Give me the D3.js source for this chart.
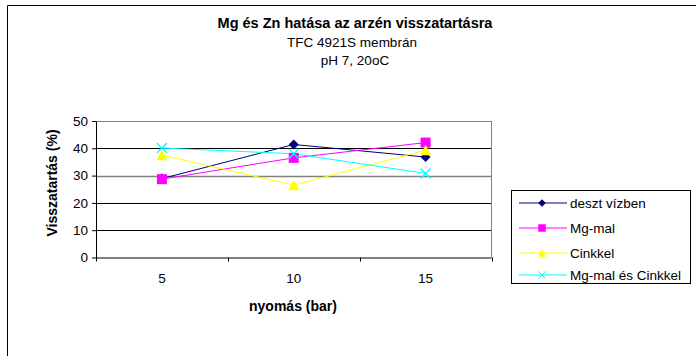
<!DOCTYPE html>
<html>
<head>
<meta charset="utf-8">
<script src="https://cdn.jsdelivr.net/npm/d3@7"></script>
<style>
  body { margin: 0; background: #fff; }
  svg { font-family: "Liberation Sans", Arial, sans-serif; }
</style>
</head>
<body>
<svg id="chart" width="696" height="356"></svg>
<script>
// data
let categories = ["5", "10", "15"];
let seriesNames = ["deszt vízben", "Mg-mal", "Cinkkel", "Mg-mal és Cinkkel"];
let deszt = [28.9, 41.4, 36.8];
let mgMal = [28.7, 36.5, 42.1];
let cinkkel = [37.5, 26.5, 39.3];
let mgCink = [40.1, 38, 30.8];
let yTicks = [0, 10, 20, 30, 40, 50];
let colors = ["#000080", "#FF00FF", "#FFFF00", "#00FFFF"];
let markers = ["diamond", "square", "triangle", "x"];

function getConfig() {
  let margin = { top: 121, left: 96, right: 696 - 491.5, bottom: 356 - 257.5 };
  let width = 696, height = 356;
  let bodyWidth = width - margin.left - margin.right;
  let bodyHeight = height - margin.top - margin.bottom;
  let container = d3.select("#chart");
  return { width, height, margin, bodyWidth, bodyHeight, container };
}

function getScales(config) {
  let xScale = d3.scaleBand().domain(categories).range([0, config.bodyWidth]);
  let yScale = d3.scaleLinear().domain([0, 50]).range([config.bodyHeight, 0]);
  return { xScale, yScale };
}

function drawMarker(g, type, color) {
  if (type == "diamond") {
    g.append("path").attr("d", "M0,-5L5,0L0,5L-5,0Z").attr("fill", color);
  } else if (type == "square") {
    g.append("rect").attr("x", -5).attr("y", -5).attr("width", 10).attr("height", 10).attr("fill", color);
  } else if (type == "triangle") {
    g.append("path").attr("d", "M0,-5.5L5.5,5L-5.5,5Z").attr("fill", color);
  } else {
    g.append("path").attr("d", "M-5,-5L5,5M-5,5L5,-5")
      .attr("stroke", color).attr("stroke-width", 1.3).attr("fill", "none");
  }
}

function drawChart() {
  let config = getConfig();
  let { margin, container, bodyWidth, bodyHeight } = config;
  let { xScale, yScale } = getScales(config);
  let series = [deszt, mgMal, cinkkel, mgCink];

  // outer chart border (only top/left visible in the picture)
  container.append("path")
    .attr("d", "M7.5,356V5.5H696")
    .attr("fill", "none").attr("stroke", "#000").attr("stroke-width", 1);

  // titles
  container.append("text").attr("x", 355).attr("y", 28)
    .attr("text-anchor", "middle").attr("font-size", 14.5).attr("font-weight", "bold")
    .text("Mg és Zn hatása az arzén visszatartásra");
  container.append("text").attr("x", 352).attr("y", 46.5)
    .attr("text-anchor", "middle").attr("font-size", 13.5)
    .text("TFC 4921S membrán");
  container.append("text").attr("x", 355).attr("y", 65)
    .attr("text-anchor", "middle").attr("font-size", 13.5)
    .text("pH 7, 20oC");

  let body = container.append("g")
    .attr("transform", "translate(" + margin.left + "," + margin.top + ")");

  // gridlines
  body.selectAll(".grid").data(yTicks.filter(d => d > 0)).enter()
    .append("line")
    .attr("x1", 0).attr("x2", bodyWidth)
    .attr("y1", d => Math.round(yScale(d)) + 0.5).attr("y2", d => Math.round(yScale(d)) + 0.5)
    .attr("stroke", d => (d == 50 || d == 30) ? "#808080" : "#000")
    .attr("stroke-width", d => d == 30 ? 1.6 : 1);

  // plot border right
  body.append("line").attr("x1", bodyWidth).attr("x2", bodyWidth)
    .attr("y1", 0).attr("y2", bodyHeight).attr("stroke", "#808080");

  // y axis
  let yAxis = body.append("g")
    .call(d3.axisLeft(yScale).tickValues(yTicks).tickSize(4).tickSizeOuter(0).tickPadding(4));
  yAxis.select(".domain").attr("stroke", "#000");
  yAxis.selectAll("text").attr("font-size", 13.5).attr("font-family", "Liberation Sans, Arial, sans-serif").attr("fill", "#000");

  // x axis with ticks on category boundaries
  let xAxis = body.append("g").attr("transform", "translate(0," + bodyHeight + ")");
  xAxis.append("line").attr("x1", 0).attr("x2", bodyWidth).attr("y1", 0.5).attr("y2", 0.5).attr("stroke", "#000");
  let bounds = categories.map(c => xScale(c)).concat([bodyWidth]);
  xAxis.selectAll(".tk").data(bounds).enter().append("line")
    .attr("x1", d => Math.round(d) + 0.5).attr("x2", d => Math.round(d) + 0.5)
    .attr("y1", 0).attr("y2", 4).attr("stroke", "#000");
  xAxis.selectAll(".lbl").data(categories).enter().append("text")
    .attr("x", d => xScale(d) + xScale.bandwidth() / 2).attr("y", 25.5)
    .attr("text-anchor", "middle").attr("font-size", 13.5).text(d => d);

  // axis titles
  container.append("text").attr("x", 293).attr("y", 311)
    .attr("text-anchor", "middle").attr("font-size", 14).attr("font-weight", "bold")
    .text("nyomás (bar)");
  container.append("text")
    .attr("transform", "translate(57,183)rotate(-90)")
    .attr("text-anchor", "middle").attr("font-size", 14).attr("font-weight", "bold")
    .text("Visszatartás (%)");

  // lines + markers
  let line = d3.line()
    .x((d, i) => xScale(categories[i]) + xScale.bandwidth() / 2)
    .y(d => yScale(d));
  series.forEach((s, k) => {
    body.append("path").datum(s).attr("d", line)
      .attr("fill", "none").attr("stroke", colors[k]).attr("stroke-width", 1);
  });
  series.forEach((s, k) => {
    s.forEach((v, i) => {
      let g = body.append("g")
        .attr("transform", "translate(" + (xScale(categories[i]) + xScale.bandwidth() / 2) + "," + yScale(v) + ")");
      drawMarker(g, markers[k], colors[k]);
    });
  });

  // legend
  let legend = container.append("g").attr("transform", "translate(511,190)");
  legend.append("rect").attr("x", 0.5).attr("y", 0.5).attr("width", 179).attr("height", 93)
    .attr("fill", "#fff").attr("stroke", "#000");
  let ly = [13, 38, 63, 85];
  seriesNames.forEach((name, k) => {
    let row = legend.append("g").attr("transform", "translate(0," + ly[k] + ")");
    row.append("line").attr("x1", 8).attr("x2", 56).attr("y1", 0).attr("y2", 0)
      .attr("stroke", colors[k]);
    let m = row.append("g").attr("transform", "translate(31,0) scale(0.75)");
    drawMarker(m, markers[k], colors[k]);
    row.append("text").attr("x", 59).attr("y", 5).attr("font-size", 13.5).text(name);
  });
}

drawChart();
</script>
</body>
</html>
